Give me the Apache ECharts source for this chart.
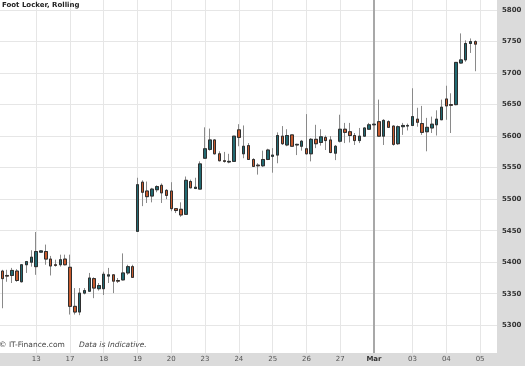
<!DOCTYPE html>
<html><head><meta charset="utf-8">
<script src="https://cdn.jsdelivr.net/npm/echarts@6/dist/echarts.min.js"></script>
<style>html,body{margin:0;padding:0;background:#dbdbdb;}#c{width:525px;height:366px;}</style>
</head><body><div id="c"></div>
<script>
// Day labels along the time axis and how many candle slots each day holds
const days = ['12','13','17','18','19','20','23','24','25','26','27','Mar','03','04','05'];
const candlesPerDay = [7,7,7,7,7,7,7,7,7,7,7,8,7,7,4];
const title = 'Foot Locker, Rolling';
const footerLeft = '\u00A9 IT-Finance.com';
const footerRight = 'Data is Indicative.';

// [open, close, low, high]
const ohlc = [
[5386,5374,5327,5388],[5379,5378,5369,5388],[5379,5387,5367,5391],[5386,5371,5369,5389],
[5369,5396,5368,5397],[5396,5401,5383,5402],[5400,5408,5393,5419],[5393,5417,5380,5448],
[5416,5418,5415,5419],[5417,5405,5396,5428],[5405,5394,5379,5410],[5396,5395,5393,5404],
[5396,5404,5393,5412],[5405,5396,5395,5412],[5392,5330,5317,5412],[5330,5321,5317,5359],
[5321,5351,5316,5359],[5351,5355,5349,5359],[5354,5375,5353,5383],[5374,5359,5343,5376],
[5358,5363,5355,5367],[5358,5381,5348,5385],[5378,5380,5367,5391],[5380,5370,5351,5381],
[5371,5370,5367,5375],[5372,5383,5371,5414],[5383,5393,5380,5396],[5393,5376,5375,5396],
[5449,5523,5449,5534],[5527,5511,5489,5530],[5513,5504,5494,5528],[5505,5516,5495,5518],
[5515,5520,5511,5522],[5522,5510,5494,5525],[5514,5506,5500,5516],[5513,5485,5481,5527],
[5485,5482,5478,5486],[5484,5475,5472,5495],[5476,5530,5475,5536],[5528,5518,5518,5531],
[5517,5519,5516,5534],[5516,5556,5516,5560],[5565,5580,5564,5614],[5579,5594,5577,5612],
[5594,5572,5571,5595],[5572,5561,5560,5576],[5561,5560,5558,5575],[5559,5560,5557,5572],
[5560,5600,5559,5600],[5610,5598,5584,5619],[5572,5584,5565,5617],[5585,5563,5563,5589],
[5563,5552,5552,5565],[5554,5553,5539,5557],[5553,5563,5551,5577],[5563,5578,5562,5580],
[5568,5570,5542,5581],[5570,5601,5557,5606],[5600,5588,5586,5616],[5586,5601,5584,5611],
[5602,5584,5583,5602],[5586,5587,5570,5588],[5584,5592,5577,5594],[5580,5572,5571,5635],
[5572,5595,5560,5597],[5595,5588,5581,5618],[5590,5599,5585,5611],[5598,5593,5578,5601],
[5594,5574,5573,5600],[5573,5584,5562,5586],[5592,5611,5590,5634],[5611,5606,5589,5621],
[5607,5601,5590,5621],[5601,5593,5586,5605],[5593,5600,5589,5613],[5600,5613,5599,5614],
[5611,5618,5610,5621],[5618,5619,5617,5620],[5623,5600,5599,5658],[5600,5625,5586,5627],
[5623,5614,5614,5625],[5616,5587,5585,5617],[5588,5615,5586,5617],[5615,5617,5602,5621],
[5616,5617,5609,5620],[5617,5631,5616,5676],[5627,5622,5615,5645],[5620,5606,5602,5648],
[5607,5614,5576,5629],[5613,5619,5605,5631],[5618,5627,5601,5641],[5626,5646,5626,5658],
[5659,5648,5626,5680],[5650,5649,5605,5668],[5650,5717,5649,5717],[5716,5721,5715,5763],
[5721,5747,5718,5752],[5747,5750,5732,5755],[5750,5746,5703,5752]
];

// build category slots
const categories = [];
const dayStart = [];
days.forEach((d, di) => {
  for (let k = 0; k < candlesPerDay[di]; k++) {
    const name = d + ' #' + (k + 1);
    categories.push(name);
    if (k === 0 && di > 0) dayStart.push({ name, label: d, month: isNaN(Number(d)) });
  }
});
const startSet = new Set(dayStart.map(s => s.name));

const TEAL = '#226a72', ORANGE = '#c85a2d';
const FONT = '"DejaVu Sans", Verdana, sans-serif';

const chart = echarts.init(document.getElementById('c'), null, { renderer: 'canvas' });
chart.setOption({
  animation: false,
  backgroundColor: '#dbdbdb',
  grid: { left: 0, right: 28, top: 0, bottom: 13, show: true, backgroundColor: '#ffffff', borderWidth: 0 },
  xAxis: {
    type: 'category', data: categories, boundaryGap: true,
    axisLine: { show: false }, axisTick: { show: false }, splitLine: { show: false },
    axisLabel: {
      interval: (i, v) => startSet.has(v),
      margin: 3, fontSize: 7, fontFamily: FONT, color: '#555',
      formatter: v => { const d = v.split(' ')[0]; return isNaN(Number(d)) ? '{m|' + d + '}' : d; },
      rich: { m: { fontWeight: 'bold', fontSize: 7, fontFamily: FONT, color: '#333' } }
    }
  },
  yAxis: {
    type: 'value', position: 'right', min: 5256, max: 5816, splitNumber: 11, scale: true,
    axisLine: { show: false }, axisTick: { show: false },
    axisLabel: {
      margin: 5, fontSize: 7, fontWeight: 'bold', fontFamily: FONT, color: '#333',
      showMinLabel: false, showMaxLabel: false,
      formatter: v => (v % 50 === 0 ? String(v) : '')
    },
    splitLine: { show: true, showMinLine: false, showMaxLine: false, lineStyle: { color: '#e6e6e6', width: 1 } }
  },
  graphic: [
    { type: 'text', left: 2, top: 2, z: 100, style: { text: title, font: 'bold 7px ' + FONT, fill: '#222' } },
    { type: 'text', left: -1, top: 341, z: 100, style: { text: footerLeft, font: '7.5px ' + FONT, fill: '#444' } },
    { type: 'text', left: 79, top: 341, z: 100, style: { text: footerRight, font: 'italic 7.5px ' + FONT, fill: '#444' } }
  ],
  series: [
    {
      type: 'candlestick', data: ohlc, barWidth: 3, z: 2,
      itemStyle: { color: TEAL, color0: ORANGE, borderColor: '#8a8a8a', borderColor0: '#8a8a8a', borderWidth: 1 },
      markLine: {
        silent: true, symbol: 'none', z: 1, animation: false,
        label: { show: false },
        data: dayStart.map(s => ({
          xAxis: s.name,
          lineStyle: s.month ? { color: '#a8a8a8', width: 2, type: 'solid' } : { color: '#e6e6e6', width: 1, type: 'solid' }
        }))
      }
    },
    {
      type: 'candlestick', barWidth: 3, z: 3,
      data: ohlc.map(([o, c]) => [o, c, Math.min(o, c), Math.max(o, c)]),
      itemStyle: { color: TEAL, color0: ORANGE, borderColor: '#2e2e2e', borderColor0: '#2e2e2e', borderWidth: 1 }
    }
  ]
});
</script></body></html>
